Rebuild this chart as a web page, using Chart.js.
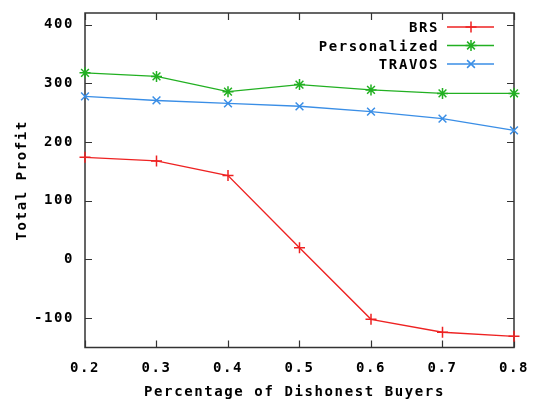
<!DOCTYPE html>
<html>
<head>
<meta charset="utf-8">
<script src="https://cdn.jsdelivr.net/npm/chart.js@4/dist/chart.umd.min.js"></script>
<style>
html,body{margin:0;padding:0;background:#fff;}
#wrap{width:533px;height:404px;position:relative;}
</style>
</head>
<body>
<div id="wrap"><canvas id="c" width="533" height="404"></canvas></div>
<script>
const xValues = [0.2, 0.3, 0.4, 0.5, 0.6, 0.7, 0.8];
const brs = [174, 168, 143, 20, -102, -124, -131];
const personalized = [318, 312, 286, 298, 289, 283, 283];
const travos = [278, 271, 266, 261, 252, 240, 220];
const seriesNames = ['BRS', 'Personalized', 'TRAVOS'];
const xTicks = [0.2, 0.3, 0.4, 0.5, 0.6, 0.7, 0.8];
const yTicks = [-100, 0, 100, 200, 300, 400];
const xTitle = 'Percentage of Dishonest Buyers ';
const yTitle = 'Total Profit';

const FONT = "'DejaVu Sans Mono', monospace";
const LS = '1.6px';
Chart.defaults.font.family = FONT;
Chart.defaults.font.size = 14;
Chart.defaults.font.weight = 'bold';
Chart.defaults.color = '#000';

const colors = ['#ee2222', '#22b022', '#3a8ee6'];
const styles = ['cross', 'star', 'crossRot'];
const seriesData = [brs, personalized, travos];

const datasets = seriesData.map((arr, i) => ({
  label: seriesNames[i],
  data: arr.map((v, j) => ({x: xValues[j], y: v})),
  borderColor: colors[i],
  backgroundColor: colors[i],
  borderWidth: 1.4,
  pointStyle: styles[i],
  pointRadius: 5.5,
  pointBorderWidth: 1.5,
  pointBorderColor: colors[i],
  tension: 0,
  fill: false,
  clip: false
}));

const spacingPlugin = {
  id: 'spacing',
  beforeUpdate(chart) { chart.ctx.letterSpacing = LS; },
  beforeDraw(chart) { chart.ctx.letterSpacing = LS; }
};

const framePlugin = {
  id: 'frame',
  beforeDatasetsDraw(chart) {
    const {ctx, chartArea: a, scales} = chart;
    ctx.save();
    ctx.strokeStyle = '#333';
    ctx.lineWidth = 1.5;
    ctx.strokeRect(a.left, a.top, a.right - a.left, a.bottom - a.top);
    ctx.lineWidth = 1.2;
    const tl = 7;
    ctx.beginPath();
    yTicks.forEach(v => {
      const y = Math.round(scales.y.getPixelForValue(v)) + 0.5;
      ctx.moveTo(a.left, y); ctx.lineTo(a.left + tl, y);
      ctx.moveTo(a.right, y); ctx.lineTo(a.right - tl, y);
    });
    xTicks.forEach(v => {
      const x = Math.round(scales.x.getPixelForValue(v)) + 0.5;
      ctx.moveTo(x, a.bottom); ctx.lineTo(x, a.bottom - tl);
      ctx.moveTo(x, a.top); ctx.lineTo(x, a.top + tl);
    });
    ctx.stroke();
    ctx.restore();
  },
  afterDatasetsDraw(chart) {
    const {ctx} = chart;
    ctx.save();
    ctx.letterSpacing = LS;
    ctx.font = 'bold 14px ' + FONT;
    ctx.textAlign = 'right';
    ctx.textBaseline = 'middle';
    ctx.fillStyle = '#000';
    const rows = [27, 45.5, 64];
    chart.data.datasets.forEach((ds, i) => {
      const y = rows[i];
      ctx.fillText(ds.label, 439, y + 1.5);
      ctx.strokeStyle = ds.borderColor;
      ctx.lineWidth = 1.4;
      ctx.beginPath();
      ctx.moveTo(447, y); ctx.lineTo(494, y);
      ctx.stroke();
      ctx.fillStyle = ds.borderColor;
      ctx.lineWidth = 1.5;
      Chart.helpers.drawPoint(ctx, {pointStyle: ds.pointStyle, radius: 5.5, borderWidth: 1.5, rotation: 0}, 471, y);
      ctx.fillStyle = '#000';
    });
    ctx.restore();
  }
};

new Chart(document.getElementById('c'), {
  type: 'line',
  data: {datasets},
  plugins: [spacingPlugin, framePlugin],
  options: {
    responsive: false,
    animation: false,
    events: [],
    layout: {padding: {left: 0, right: 19, top: 13, bottom: 0}},
    plugins: {legend: {display: false}, tooltip: {enabled: false}, title: {display: false}},
    scales: {
      x: {
        type: 'linear',
        min: 0.2, max: 0.8,
        afterBuildTicks: s => { s.ticks = xTicks.map(v => ({value: v})); },
        afterFit: s => { s.height = 56.5; s.paddingRight = 0; s.paddingLeft = 0; },
        grid: {display: false, drawTicks: false},
        border: {display: false},
        ticks: {padding: 12, color: '#000', callback: v => Number(v).toFixed(1), maxRotation: 0, autoSkip: false},
        title: {display: true, text: xTitle, color: '#000', padding: {top: 0, bottom: 3}}
      },
      y: {
        type: 'linear',
        min: -150, max: 420,
        afterBuildTicks: s => { s.ticks = yTicks.map(v => ({value: v})); },
        afterFit: s => { s.width = 85; s.paddingTop = 0; s.paddingBottom = 0; },
        grid: {display: false, drawTicks: false},
        border: {display: false},
        ticks: {padding: 11, color: '#000', autoSkip: false},
        title: {display: true, text: yTitle, color: '#000', padding: {top: 14, bottom: 0}}
      }
    }
  }
});
</script>
</body>
</html>
